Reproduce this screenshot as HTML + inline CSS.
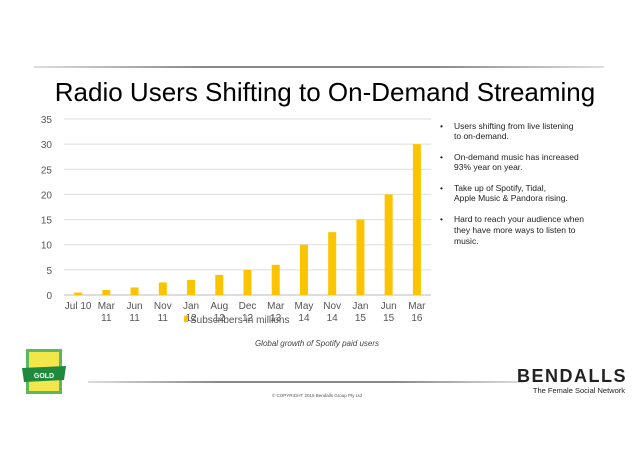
<!DOCTYPE html>
<html><head><meta charset="utf-8"><style>
body{margin:0;background:#fff;width:638px;height:452px;overflow:hidden;font-family:"Liberation Sans",sans-serif;}
</style></head><body>
<svg id="chart" width="638" height="452" xmlns="http://www.w3.org/2000/svg" font-family="Liberation Sans, sans-serif">
<defs>
<linearGradient id="g1" x1="0" x2="1"><stop offset="0" stop-color="#ddd"/><stop offset="0.3" stop-color="#888"/><stop offset="0.7" stop-color="#888"/><stop offset="1" stop-color="#ddd"/></linearGradient>
</defs>
<rect x="34" y="66" width="570" height="2" fill="url(#g1)"/>
<text x="325" y="101" text-anchor="middle" font-size="26" fill="#000">Radio Users Shifting to On-Demand Streaming</text>
<g id="plot"></g>
<g font-size="8.5" fill="#222">
<text x="440" y="129">•</text><text x="454" y="129">Users shifting from live listening</text><text x="454" y="139">to on-demand.</text>
<text x="440" y="160">•</text><text x="454" y="160">On-demand music has increased</text><text x="454" y="170">93% year on year.</text>
<text x="440" y="191">•</text><text x="454" y="191">Take up of Spotify, Tidal,</text><text x="454" y="201">Apple Music &amp; Pandora rising.</text>
<text x="440" y="222">•</text><text x="454" y="222">Hard to reach your audience when</text><text x="454" y="233">they have more ways to listen to</text><text x="454" y="244">music.</text>
</g>
<text x="317" y="346" text-anchor="middle" font-size="8" font-style="italic" fill="#444">Global growth of Spotify paid users</text>
<g>
<rect x="26" y="349" width="36" height="45" fill="#5cb85c"/><rect x="29" y="352" width="30" height="39" fill="#f2e64a"/>
<path d="M22 368 L66 366 L64 380 L24 382 Z" fill="#1f8a3c"/>
<text x="44" y="378" text-anchor="middle" font-size="7" fill="#fff" font-weight="bold">GOLD</text>
</g>
<rect x="88" y="381" width="436" height="2" fill="url(#g1)"/>
<text x="317" y="397" text-anchor="middle" font-size="4.5" fill="#555">© COPYRIGHT 2016 Bendalls Group Pty Ltd</text>
<text x="627" y="382" text-anchor="end" font-size="18" font-weight="bold" letter-spacing="1.5" fill="#222">BENDALLS</text>
<text x="625" y="393" text-anchor="end" font-size="7.5" fill="#222">The Female Social Network</text>
</svg>
<script>
const categories=[["Jul 10"],["Mar","11"],["Jun","11"],["Nov","11"],["Jan","12"],["Aug","12"],["Dec","12"],["Mar","13"],["May","14"],["Nov","14"],["Jan","15"],["Jun","15"],["Mar","16"]];
const subscribers=[0.5,1,1.5,2.5,3,4,5,6,10,12.5,15,20,30];
const yTicks=[0,5,10,15,20,25,30,35];
const NS="http://www.w3.org/2000/svg";
const plot=document.getElementById('plot');
const x0=64,x1=431,y0=295,y1=119,yMax=35;
const band=(x1-x0)/categories.length;
function y(v){return y0-(v/yMax)*(y0-y1);}
function xc(i){return x0+band*(i+0.5);}
function mk(t,a){const e=document.createElementNS(NS,t);for(const k in a)e.setAttribute(k,a[k]);plot.appendChild(e);return e;}
yTicks.forEach(t=>{
 const l=mk('line',{x1:x0,x2:x1,y1:y(t),y2:y(t),stroke:t===0?'#bbb':'#ddd','stroke-width':1});
 
 
 const tx=mk('text',{x:52,y:y(t)+4,'text-anchor':'end','font-size':10,fill:'#555'});tx.textContent=t;
 
 
});
subscribers.forEach((v,i)=>{
 const r=mk('rect',{x:xc(i)-4,y:y(v),width:8,height:y0-y(v),fill:'#fcc400'});
 
 
 categories[i].forEach((s,j)=>{
  const tx=mk('text',{x:xc(i),y:309+j*12,'text-anchor':'middle','font-size':10,fill:'#555'});tx.textContent=s;
  
  
 });
});
const lg=mk('rect',{x:184,y:316,width:4,height:6,fill:'#fcc400'});


const lt=mk('text',{x:190,y:323,'font-size':10,fill:'#555'});lt.textContent='Subscribers in millions';


</script>
</body></html>
